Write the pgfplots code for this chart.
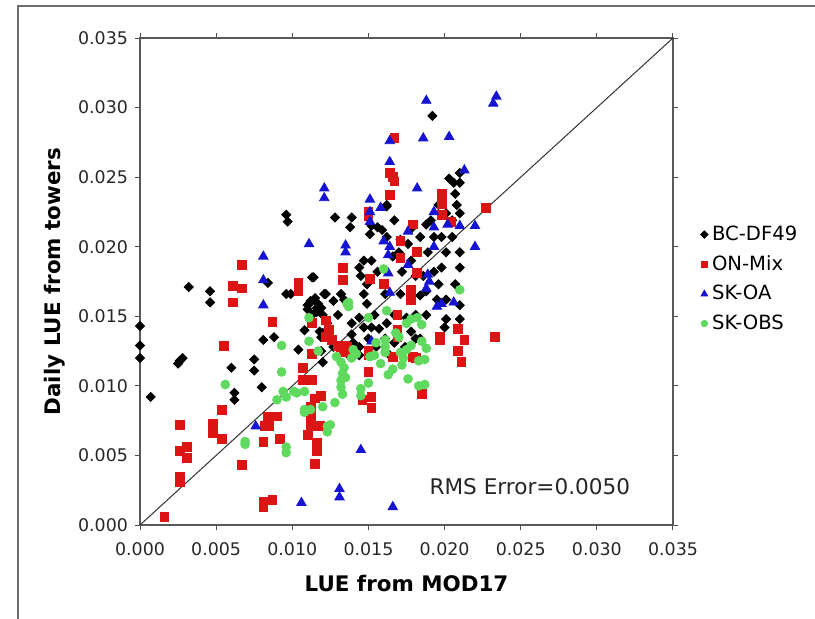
\documentclass[border=0pt]{standalone}
\usepackage{fontspec}
\setmainfont{DejaVu Sans}
\usepackage{pgfplots}
\pgfplotsset{compat=1.18}
\definecolor{cBlack}{RGB}{0,0,0}
\definecolor{cRed}{RGB}{220,20,20}
\definecolor{cBlue}{RGB}{20,20,210}
\definecolor{cGreen}{RGB}{95,218,95}
\definecolor{cFrame}{RGB}{110,110,110}
\begin{document}
\begin{tikzpicture}
\useasboundingbox (0,0) rectangle (407.5pt,309pt);
\draw[cFrame, line width=0.8pt] (9pt,-1pt) -- (9pt,306pt) -- (409pt,306pt);
\begin{axis}[
  at={(70pt,46.5pt)}, anchor=south west,
  width=266.5pt, height=243.5pt, scale only axis,
  xmin=0, xmax=35, ymin=0, ymax=35,
  xtick={0,5,10,15,20,25,30,35}, ytick={0,5,10,15,20,25,30,35},
  xticklabels={0.000,0.005,0.010,0.015,0.020,0.025,0.030,0.035},
  yticklabels={0.000,0.005,0.010,0.015,0.020,0.025,0.030,0.035},
  /pgf/number format/assume math mode=true,
  tick align=outside, major tick length=2.5pt,
  tick style={color=black!70, line width=0.5pt},
  axis line style={black!65, line width=0.6pt},
  ticklabel style={font=\fontsize{8.7}{10}\selectfont, text=black!85},
  xticklabel style={yshift=-3pt},
  xlabel={LUE from MOD17}, ylabel={Daily LUE from towers},
  label style={font=\bfseries\fontsize{10.7}{12}\selectfont},
  xlabel style={at={(axis description cs:0.5,-0.12)}, anchor=center},
  ylabel style={at={(axis description cs:-0.1595,0.5)}, anchor=center},
  clip=false,
  legend style={draw=none, fill=none, at={(rel axis cs:1.04,0.505)}, anchor=west,
    font=\fontsize{9.8}{11}\selectfont, row sep=2pt},
  legend cell align=left,
  legend image code/.code={\draw[#1] plot coordinates {(0.08cm,0cm)};},
]
\addplot[black!80, line width=0.5pt, forget plot] coordinates {(0,0) (35,35)};

\addlegendimage{only marks, mark=square*, mark size=1.3pt, mark options={rotate=45, fill=cBlack, draw=cBlack}}
\addlegendentry{BC-DF49}
\addlegendimage{only marks, mark=square*, mark size=1.6pt, mark options={fill=cRed, draw=cRed}}
\addlegendentry{ON-Mix}
\addlegendimage{only marks, mark=triangle*, mark size=1.9pt, mark options={fill=cBlue, draw=cBlue}}
\addlegendentry{SK-OA}
\addlegendimage{only marks, mark=*, mark size=1.6pt, mark options={fill=cGreen, draw=cGreen}}
\addlegendentry{SK-OBS}

% BC-DF49
\addplot[only marks, mark=square*, mark size=1.6pt, mark options={rotate=45, fill=cBlack, draw=cBlack}, forget plot] coordinates {
(0.0,14.3) (0.0,12.9) (0.0,12.0) (0.7,9.2) (2.5,11.6) (2.6,11.8) (2.8,12.0) (3.2,17.1)
(4.6,16.8) (4.6,16.0) (6.0,11.3) (6.2,9.5) (6.2,9.0) (7.5,11.9) (7.5,11.1) (8.0,9.9)
(8.1,13.3) (8.8,13.5) (8.4,17.4) (9.6,16.6) (9.9,16.6) (9.6,22.3) (9.7,21.8) (10.4,12.6)
(10.8,14.0) (11.3,17.8) (11.2,16.0) (11.5,16.3) (11.7,15.9) (11.9,15.6) (12.2,16.6) (11.6,15.3)
(11.0,15.5) (12.0,13.8) (12.0,11.7) (11.9,13.5) (11.9,12.5) (12.8,22.1) (13.9,22.1) (13.8,21.4)
(13.2,16.6) (13.4,16.2) (14.4,18.5) (14.5,17.9) (14.7,16.6) (14.9,17.3) (15.1,20.9) (15.2,21.5)
(15.6,21.4) (16.2,23.0) (15.9,21.2) (15.2,19.0) (14.7,19.0) (15.6,18.2) (16.1,16.6) (14.9,15.9)
(15.4,15.1) (14.4,14.9) (13.9,14.5) (13.9,13.7) (14.7,14.2) (15.2,14.2) (15.7,14.1) (16.2,14.5)
(16.1,13.4) (15.0,13.4) (14.4,12.8) (14.4,12.2) (13.3,12.8) (13.7,12.2) (14.0,13.1) (16.7,13.1)
(16.7,15.1) (17.1,16.6) (17.2,18.2) (17.0,19.6) (17.6,20.2) (17.8,19.0) (18.1,17.9) (18.4,16.5)
(18.1,15.1) (17.8,13.9) (17.4,12.8) (18.4,13.4) (18.8,15.1) (18.8,16.8) (18.6,17.9) (18.9,19.6)
(19.3,20.7) (19.1,21.9) (19.6,23.0) (20.1,22.4) (20.5,21.9) (20.3,24.9) (21.0,25.3) (21.0,24.6)
(19.2,29.4) (20.8,23.0) (21.0,22.4) (20.5,20.7) (21.0,19.6) (20.1,19.6) (19.8,18.5) (21.0,18.5)
(20.7,17.3) (20.1,16.2) (21.0,15.8) (20.1,14.8) (21.0,14.8) (20.0,14.2) (19.5,16.2) (19.6,17.3)
(19.3,18.2) (18.1,13.4) (16.4,12.2) (15.5,12.8) (13.0,15.1) (12.3,14.5) (12.0,15.1) (11.6,15.6)
(11.2,16.1) (11.0,15.8) (11.3,15.1) (12.1,16.6) (12.7,16.1) (11.4,17.8) (11.8,13.9) (12.7,12.8)
(16.7,21.9) (16.2,20.7) (16.6,19.3) (17.1,20.5) (17.8,21.3) (18.4,20.7) (18.8,21.6) (19.8,20.7)
(16.2,22.9) (20.6,24.6) (20.7,23.8) (17.5,14.9)
};
% ON-Mix
\addplot[only marks, mark=square*, mark size=2.2pt, mark options={fill=cRed, draw=cRed}, forget plot] coordinates {
(1.6,0.6) (2.6,7.2) (2.6,5.3) (3.1,5.6) (3.1,4.8) (2.6,3.5) (2.6,3.1) (4.8,7.3)
(4.8,6.6) (5.4,6.2) (5.4,8.3) (5.5,12.9) (6.1,17.2) (6.7,17.0) (6.1,16.0) (6.7,18.7)
(6.7,4.3) (8.1,6.0) (8.4,7.8) (9.0,7.8) (8.5,7.1) (8.2,7.1) (9.2,6.2) (8.1,1.7)
(8.7,1.8) (8.1,1.3) (8.7,14.6) (10.4,17.4) (10.4,16.8) (11.5,4.4) (11.3,14.5) (11.3,12.3)
(10.7,11.3) (11.3,10.4) (10.7,10.4) (11.5,9.1) (11.9,9.3) (11.2,8.5) (11.2,7.8) (11.2,7.1)
(11.8,7.1) (11.0,6.5) (11.6,5.9) (11.6,5.3) (12.2,14.7) (12.2,13.5) (12.4,14.0) (12.6,13.3)
(13.0,12.9) (13.7,12.6) (13.4,12.4) (13.3,18.5) (13.3,17.6) (15.0,12.5) (15.0,11.0) (14.6,9.0)
(15.2,9.2) (15.2,8.4) (15.0,22.5) (15.0,22.2) (16.7,27.8) (16.4,25.3) (16.7,24.7) (16.6,25.0)
(16.4,23.7) (15.1,17.7) (16.0,17.3) (17.1,20.4) (17.1,19.2) (17.9,21.6) (18.2,19.6) (18.2,18.1)
(17.8,16.9) (17.8,16.2) (16.9,15.1) (16.9,14.0) (16.9,13.5) (16.6,12.1) (17.9,12.1) (18.1,12.0)
(18.5,9.4) (19.8,23.8) (19.8,23.1) (20.4,21.8) (19.8,22.3) (22.7,22.8) (19.7,13.5) (19.7,13.3)
(20.9,14.1) (21.3,13.3) (20.9,12.5) (21.1,11.7) (23.3,13.5) (13.2,12.8) (13.6,12.8) (15.0,12.2)
(13.4,12.9)
};
% SK-OA
\addplot[only marks, mark=triangle*, mark size=2.7pt, mark options={fill=cBlue, draw=cBlue}, forget plot] coordinates {
(7.6,7.1) (8.1,17.6) (8.1,15.8) (8.1,19.3) (10.6,1.6) (11.1,20.2) (12.1,24.2) (12.1,23.5)
(13.1,2.6) (13.1,2.0) (13.5,20.1) (13.5,19.6) (14.5,5.4) (15.1,23.4) (15.1,22.5) (15.1,21.8)
(15.8,22.8) (16.0,20.4) (16.3,18.1) (16.4,27.6) (16.4,26.1) (16.4,20.0) (16.6,1.3) (16.4,16.7)
(17.6,21.1) (18.2,24.2) (18.6,27.8) (18.8,30.5) (20.3,27.9) (21.3,25.5) (23.2,30.3) (23.4,30.8)
(19.3,22.5) (19.3,21.4) (20.2,21.6) (21.0,21.5) (22.0,21.5) (22.0,20.0) (18.9,18.0) (19.0,17.5)
(19.5,15.7) (19.8,15.9) (20.6,16.0) (15.2,13.2) (17.6,18.7) (16.3,19.4) (18.8,17.0) (19.3,20.0)
};
% SK-OBS
\addplot[only marks, mark=*, mark size=2.2pt, mark options={fill=cGreen, draw=cGreen}, forget plot] coordinates {
(5.6,10.1) (6.9,6.0) (6.9,5.8) (9.6,5.6) (9.6,5.2) (9.3,12.9) (9.3,11.0) (9.0,9.0)
(9.4,9.6) (10.1,9.6) (10.3,9.5) (10.8,9.6) (10.8,8.3) (10.8,8.1) (11.1,14.9) (11.1,13.2)
(11.7,12.5) (12.3,7.1) (12.3,6.7) (12.5,7.2) (12.8,8.8) (13.2,11.7) (13.4,11.3) (13.3,10.9)
(13.2,10.4) (13.2,9.9) (13.3,9.4) (13.7,16.0) (13.7,15.7) (14.0,12.6) (14.5,9.8) (14.5,9.3)
(15.0,10.2) (15.1,12.1) (15.4,12.2) (16.1,13.3) (16.1,12.4) (16.1,12.8) (16.3,10.8) (17.5,14.5)
(17.5,12.6) (17.8,14.8) (18.2,14.9) (18.5,14.4) (18.5,13.2) (18.7,11.9) (17.1,12.4) (17.3,12.0)
(17.6,10.5) (18.7,10.1) (21.0,16.9) (16.0,18.4) (16.2,15.4) (13.6,15.9) (15.0,14.9) (15.5,13.1)
(16.8,13.8) (17.0,13.5) (17.8,12.9) (18.3,11.8) (18.8,12.7) (18.3,10.0) (13.9,12.0) (16.6,11.2)
(17.2,11.5) (12.0,8.5) (9.6,9.2) (11.2,8.3) (13.5,10.6) (14.2,12.3) (12.9,12.1) (15.8,11.6)
};
\node[font=\fontsize{10.8}{12}\selectfont, text=black!85] at (axis cs:25.6,2.75) {RMS Error=0.0050};
\end{axis}
\end{tikzpicture}
\end{document}
